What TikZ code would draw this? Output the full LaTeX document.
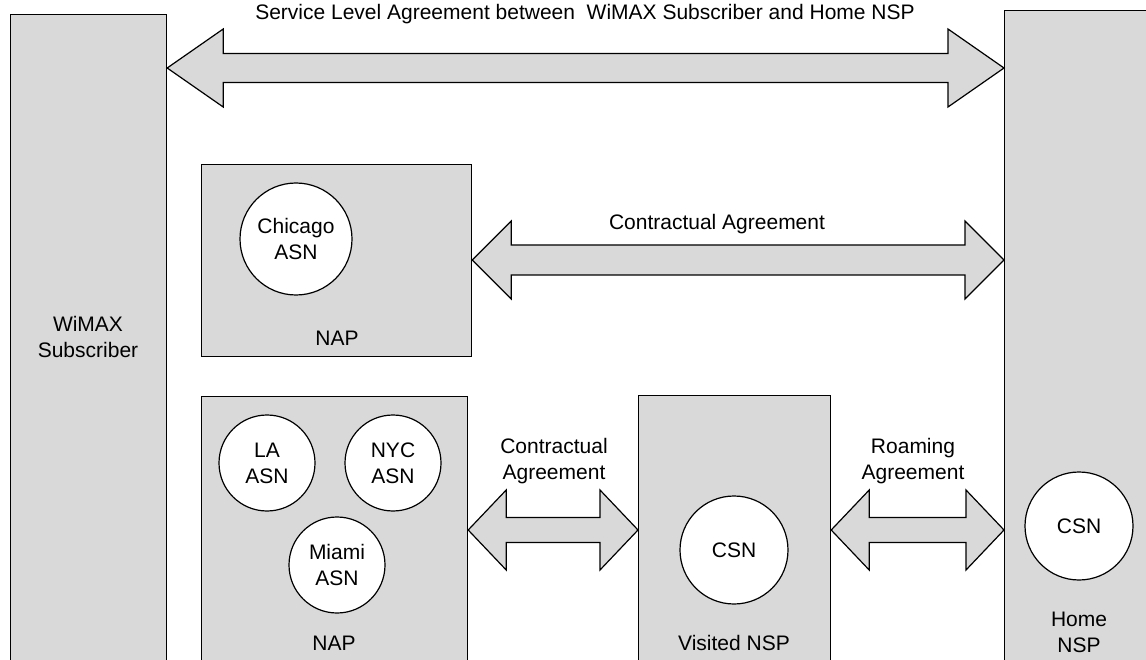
\documentclass[tikz,border=0pt]{standalone}
\usepackage{fontspec}
\setmainfont{Liberation Sans}
\usetikzlibrary{calc}
\definecolor{boxgray}{RGB}{217,217,217}
\tikzset{
  box/.style={draw, fill=boxgray, line width=1.2pt, anchor=north west, inner sep=0pt},
  asn/.style={draw, circle, fill=white, line width=1.2pt, inner sep=0pt, align=center,
    font=\fontsize{21}{26}\selectfont},
  lbl/.style={align=center, inner sep=0pt, font=\fontsize{21}{26}\selectfont},
  fat/.style={draw, fill=boxgray, line width=1.2pt},
}
% fat double arrow: from, to, head length, head half width, shaft half width
\newcommand{\fatarrow}[5]{%
  \draw[fat] (#1) -- ($(#1)+(#3,-#4)$) -- ($(#1)+(#3,-#5)$) -- ($(#2)+(-#3,-#5)$)
    -- ($(#2)+(-#3,-#4)$) -- (#2) -- ($(#2)+(-#3,#4)$) -- ($(#2)+(-#3,#5)$)
    -- ($(#1)+(#3,#5)$) -- ($(#1)+(#3,#4)$) -- cycle;}
\begin{document}
\begin{tikzpicture}[x=1pt,y=-1pt]
  \clip (0,0) rectangle (1146,660);
  \fill[white] (0,0) rectangle (1146,660);
  % parties
  \node[box, minimum width=156, minimum height=720] (sub) at (10,14) {};
  \node[box, minimum width=160, minimum height=720] (home) at (1004,10) {};
  \node[box, minimum width=270, minimum height=192] (nap1) at (201,164) {};
  \node[box, minimum width=266, minimum height=330] (nap2) at (201,396) {};
  \node[box, minimum width=192, minimum height=330] (vnsp) at (638,395) {};
  \node[lbl] (sublbl) at (88,337) {WiMAX\\Subscriber};
  \node[lbl] (homelbl) at (1079,632) {Home\\NSP};
  \node[lbl] (nap1lbl) at (337,338) {NAP};
  \node[lbl] (nap2lbl) at (334,643) {NAP};
  \node[lbl] (vnsplbl) at (734,643) {Visited NSP};
  % service nodes
  \node[asn, minimum size=112] (chi) at (296,239) {Chicago\\ASN};
  \node[asn, minimum size=96] (la) at (267,463) {LA\\ASN};
  \node[asn, minimum size=96] (nyc) at (393,463) {NYC\\ASN};
  \node[asn, minimum size=96] (mia) at (337,565) {Miami\\ASN};
  \node[asn, minimum size=108] (vcsn) at (734,550) {CSN};
  \node[asn, minimum size=108] (hcsn) at (1079,526) {CSN};
  % agreements
  \coordinate (slaL) at (sub.east |- 0,68);
  \coordinate (slaR) at (home.west |- 0,68);
  \coordinate (ca1L) at (nap1.east |- 0,260);
  \coordinate (ca1R) at (home.west |- 0,260);
  \coordinate (ca2L) at (nap2.east |- 0,530);
  \coordinate (ca2R) at (vnsp.west |- 0,530);
  \coordinate (raL) at (vnsp.east |- 0,530);
  \coordinate (raR) at (home.west |- 0,530);
  \fatarrow{slaL}{slaR}{56}{39}{14.5}
  \fatarrow{ca1L}{ca1R}{39}{39}{15}
  \fatarrow{ca2L}{ca2R}{38}{40}{12.5}
  \fatarrow{raL}{raR}{38}{40}{12.5}
  \node[lbl] (slalbl) at (585,14) {Service Level Agreement between~ WiMAX Subscriber and Home NSP};
  \node[lbl] (ca1lbl) at (717,224) {Contractual Agreement};
  \node[lbl] (ca2lbl) at (554,461) {Contractual\\Agreement};
  \node[lbl] (ralbl) at (913,461) {Roaming\\Agreement};
\end{tikzpicture}
\end{document}
